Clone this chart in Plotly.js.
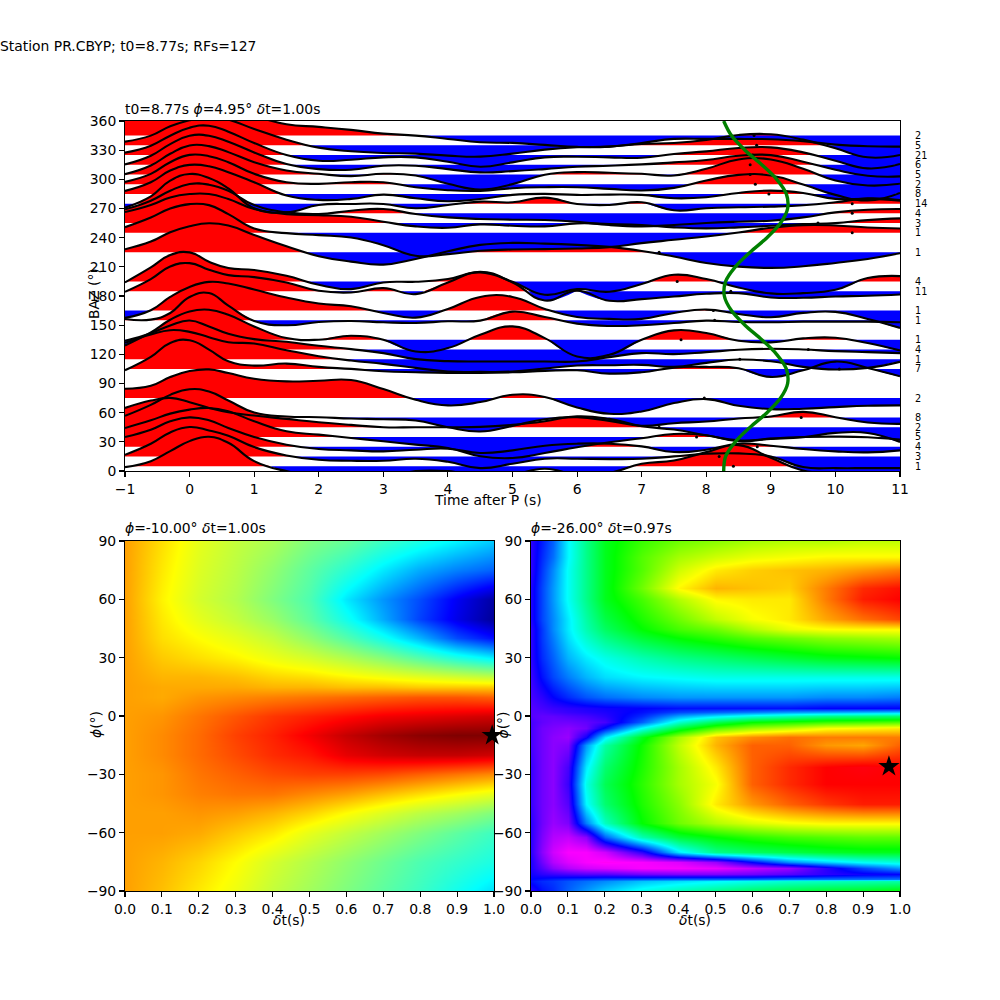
<!DOCTYPE html>
<html><head><meta charset="utf-8">
<script src="https://cdn.plot.ly/plotly-3.0.1.min.js"></script>
<style>html,body{margin:0;padding:0;background:#fff}</style></head>
<body><div id="chart" style="width:1000px;height:1000px"></div>
<script>
const timeKnots=[-1,-0.6,-0.3,0,0.3,0.6,1,1.5,2,2.5,3,3.5,4,4.5,5,5.5,6,6.5,7,7.5,8,8.5,9,9.5,10,10.5,11];
const bazBins=[5,15,25,35,45,55,75,105,115,125,135,155,165,185,195,225,245,255,265,275,285,295,305,315,325,335,345];
const rfCounts=[1,3,4,5,2,8,2,7,1,4,1,1,1,11,4,1,1,3,4,14,8,2,5,6,21,5,2];
const degPerAmp=0.343;
const rf5=[-3,15,45,75,88,70,15,-15,-30,-35,-35,-15,-15,-30,-25,-8,-25,-20,7,17,42,63,25,-13,-22,-30,-35];
const rf15=[5,38,72,88,78,62,28,3,-10,-13,-13,-7,-16,-35,-22,-7,-7,-8,-7,0,8,9,0,-32,-35,-35,-35];
const rf25=[29,51,76,88,79,56,29,6,-7,-11,-14,-9,-6,-19,-11,3,9,9,1,-16,-9,9,3,-7,-14,-17,-11];
const rf35=[27,50,70,82,87,77,47,17,7,-3,-13,-23,-33,-58,-63,-48,-31,-16,-4,9,5,-13,-5,0,1,-1,-8];
const rf45=[58,80,88,75,58,45,35,25,15,7,0,0,0,1,7,18,33,25,3,-7,-24,-39,-35,-30,-17,-17,-44];
const rf55=[5,38,68,85,78,51,15,3,1,-3,-5,-9,-29,-42,-25,-5,1,-10,-25,-17,-12,-3,3,17,1,-15,-19];
const rf75=[28,37,63,81,86,75,58,50,52,54,27,-5,-22,-12,10,3,-28,-47,-40,-15,-3,-23,-33,-32,-27,-23,-22];
const rf105=[-4,36,78,86,58,23,10,16,6,0,-7,-10,-12,-12,-10,-6,-4,-14,-10,4,6,2,-24,-4,22,3,-22];
const rf115=[49,74,87,82,66,51,47,27,9,-4,-14,-26,-37,-38,-37,-28,-19,-18,-17,-23,-11,-1,-6,-23,-31,-26,-8];
const rf125=[26,49,72,87,69,47,31,23,11,1,-11,-29,-35,-36,-36,-36,-36,-23,-11,-14,-8,-1,2,0,-5,-8,-11];
const rf135=[-17,22,60,85,90,75,40,5,0,12,0,-35,-25,15,40,5,-50,-45,0,28,20,-3,-8,4,6,-10,-32];
const rf155=[4,2,22,70,82,44,-2,-15,-5,-2,-6,-8,-3,-1,26,10,-10,-17,-15,-8,-1,-5,-6,-4,-4,-4,-6];
const rf165=[-22,1,41,71,86,81,63,39,21,13,-7,-21,5,41,41,5,-19,-25,-25,-7,3,-10,-20,-7,-4,-25,-52];
const rf185=[-2,36,74,84,64,48,42,26,1,-4,9,-9,26,58,26,-28,1,-29,-24,-16,-8,-6,-19,-20,-16,-14,-10];
const rf195=[-3,42,79,87,59,40,34,17,-10,-23,-3,-1,7,27,-1,-40,-23,-31,-8,20,7,-18,-36,-35,-25,10,16];
const rf225=[9,32,60,78,87,80,52,18,-12,-28,-37,-20,3,22,28,26,22,16,4,-13,-32,-43,-47,-42,-32,-20,-3];
const rf245=[17,46,73,86,83,56,13,-1,-7,-14,-37,-69,-64,-54,-50,-49,-47,-43,-31,-21,-11,1,15,23,22,16,13];
const rf255=[33,54,77,87,87,72,42,27,24,19,4,-10,-14,-4,-8,-10,-1,-3,-6,-13,-16,-13,-8,-3,0,9,14];
const rf265=[12,38,68,88,86,68,25,3,-2,8,13,-2,-12,-17,-19,-20,-25,-35,-39,-35,-29,-25,-22,-12,3,11,13];
const rf275=[-12,22,69,89,77,46,-14,-26,-4,-1,-1,-14,-4,6,4,18,-1,-4,4,-20,-14,-11,-9,-5,4,16,11];
const rf285=[9,35,70,87,83,65,35,-5,-18,-15,-2,-13,-22,-15,-3,0,-3,-2,-3,-13,-10,3,10,3,-15,-15,-20];
const rf295=[7,31,66,88,84,66,31,6,1,6,6,-9,-18,-20,-12,-9,-9,-14,-19,-11,11,28,26,-1,-32,-49,-26];
const rf305=[1,27,62,87,85,67,37,12,2,-5,2,-3,-28,-45,-29,-1,7,5,2,-3,17,45,45,17,-18,-33,-28];
const rf315=[1,27,62,87,87,69,37,2,-13,-15,-3,-3,-13,-23,-19,-13,-6,-3,1,7,14,27,29,9,-15,-33,-35];
const rf325=[7,28,58,82,88,70,36,0,-17,-14,-7,-7,-20,-35,-22,-7,-5,-7,-8,3,11,21,23,8,-17,-40,-27];
const rf335=[11,29,57,75,87,77,49,17,-7,-18,-23,-25,-31,-34,-25,-13,-6,-4,4,7,16,31,33,17,-9,-36,-29];
const rf345=[55,65,78,88,86,74,58,34,26,17,6,0,-10,-20,-22,-28,-34,-33,-22,-10,-10,-10,-11,-17,-27,-32,-33];
const rfTraces=[rf5,rf15,rf25,rf35,rf45,rf55,rf75,rf105,rf115,rf125,rf135,rf155,rf165,rf185,rf195,rf225,rf245,rf255,rf265,rf275,rf285,rf295,rf305,rf315,rf325,rf335,rf345];
const pickTimes=[8.42,8.2,8.79,7.85,7.27,9.47,7.97,10.06,8.52,9.58,7.61,8.13,8.11,8.38,7.55,7.27,10.26,9.73,10.26,10.26,8.97,8.76,8.68,8.68,8.72,8.78,8.74];
const sineBaz=[0,15,30,45,60,75,90,105,120,135,150,165,180,195,210,225,240,255,270,285,300,315,330,345,360];
const sineTime=[8.27,8.30,8.45,8.68,8.94,9.15,9.26,9.24,9.09,8.86,8.60,8.39,8.28,8.30,8.45,8.68,8.94,9.15,9.26,9.24,9.09,8.86,8.60,8.39,8.27];

const dtLeft=[0,0.1,0.2,0.3,0.4,0.5,0.6,0.7,0.8,0.9,1];
const phiLeft=[-90,-75,-60,-50,-40,-30,-20,-10,0,10,15,20,30,40,50,60,75,90];
const zLeft=[
[.74,.71,.67,.63,.58,.54,.50,.46,.42,.37,.32],
[.74,.72,.69,.65,.60,.56,.52,.48,.44,.41,.38],
[.74,.74,.73,.70,.67,.62,.58,.54,.50,.46,.42],
[.74,.74,.75,.74,.72,.69,.65,.61,.57,.54,.50],
[.74,.75,.77,.78,.78,.76,.74,.71,.68,.65,.62],
[.74,.75,.78,.80,.82,.83,.83,.82,.80,.78,.76],
[.74,.76,.79,.82,.85,.87,.91,.93,.94,.94,.93],
[.74,.76,.79,.83,.86,.90,.94,.97,.99,1,1],
[.74,.75,.78,.81,.84,.86,.88,.90,.91,.92,.93],
[.74,.73,.75,.76,.77,.78,.79,.80,.81,.81,.80],
[.74,.73,.73,.73,.72,.72,.71,.71,.70,.70,.70],
[.74,.72,.72,.71,.69,.68,.66,.64,.62,.60,.58],
[.74,.70,.68,.66,.63,.60,.56,.51,.45,.39,.34],
[.74,.68,.65,.62,.58,.52,.45,.37,.28,.18,.12],
[.74,.67,.62,.58,.53,.46,.37,.27,.17,.09,.02],
[.74,.66,.60,.56,.50,.44,.33,.25,.18,.10,.03],
[.74,.67,.61,.57,.52,.46,.40,.33,.27,.23,.20],
[.74,.68,.62,.58,.55,.50,.47,.42,.38,.34,.30]];
const dtRight=[0,0.03,0.06,0.1,0.15,0.2,0.3,0.4,0.5,0.6,0.7,0.8,0.9,1];
const phiRight=[-90,-85,-84,-81,-78,-75,-70,-62,-55,-45,-35,-26,-15,-11,-6,-3,0,2,4,10,20,30,40,45,50,60,66,75,82,90];
const zRight=[
[.20,.24,.26,.30,.34,.38,.43,.47,.50,.53,.55,.57,.58,.60],
[.24,.26,.27,.29,.31,.33,.37,.39,.41,.43,.45,.46,.47,.48],
[.23,.24,.25,.26,.27,.28,.29,.30,.30,.30,.31,.31,.31,.31],
[.22,.20,.19,.18,.17,.17,.15,.14,.14,.15,.17,.20,.22,.23],
[.21,.17,.13,.10,.08,.07,.05,.05,.06,.09,.12,.20,.28,.34],
[.21,.15,.10,.07,.05,.04,.05,.07,.12,.23,.33,.38,.42,.44],
[.20,.13,.08,.05,.05,.08,.20,.40,.50,.53,.55,.57,.58,.58],
[.20,.14,.10,.09,.13,.30,.47,.56,.60,.63,.65,.66,.67,.67],
[.20,.15,.12,.14,.32,.46,.60,.68,.73,.76,.78,.79,.79,.79],
[.19,.15,.13,.17,.41,.52,.62,.70,.80,.86,.90,.93,.95,.95],
[.19,.15,.13,.19,.43,.54,.63,.72,.78,.90,.94,.97,.97,.97],
[.19,.15,.13,.18,.40,.52,.62,.72,.80,.90,.94,.97,.98,.97],
[.18,.15,.13,.14,.34,.48,.61,.74,.84,.90,.90,.86,.85,.90],
[.18,.15,.13,.12,.22,.40,.58,.72,.83,.87,.89,.88,.88,.88],
[.18,.15,.14,.13,.15,.24,.42,.56,.66,.71,.74,.78,.79,.80],
[.18,.16,.15,.15,.16,.18,.30,.45,.54,.60,.62,.64,.65,.66],
[.17,.16,.16,.17,.18,.20,.26,.35,.40,.44,.47,.50,.51,.52],
[.17,.17,.18,.19,.20,.21,.24,.28,.30,.32,.34,.35,.36,.37],
[.17,.18,.19,.20,.21,.22,.23,.24,.24,.24,.24,.23,.23,.23],
[.18,.20,.23,.26,.29,.31,.33,.34,.34,.34,.34,.33,.33,.32],
[.19,.24,.28,.32,.36,.39,.41,.42,.43,.43,.43,.43,.43,.43],
[.20,.26,.30,.36,.40,.43,.47,.50,.52,.54,.56,.58,.59,.60],
[.20,.27,.32,.39,.45,.50,.56,.60,.63,.66,.68,.70,.71,.72],
[.20,.27,.33,.40,.47,.53,.60,.65,.68,.73,.77,.785,.79,.79],
[.21,.28,.33,.40,.48,.55,.62,.68,.74,.78,.80,.85,.89,.92],
[.21,.28,.34,.42,.50,.58,.65,.73,.79,.80,.80,.88,.95,.97],
[.21,.28,.34,.42,.50,.58,.68,.79,.84,.83,.82,.88,.94,.96],
[.20,.27,.33,.42,.50,.58,.66,.75,.80,.82,.83,.84,.86,.88],
[.20,.26,.31,.41,.50,.58,.66,.72,.75,.77,.78,.79,.79,.79],
[.20,.25,.30,.41,.50,.58,.64,.68,.70,.72,.73,.73,.74,.74]];

const jet=[[0,'#00007f'],[.11,'#0000ff'],[.35,'#00ffff'],[.5,'#7fff7f'],[.65,'#ffff00'],[.89,'#ff0000'],[1,'#7f0000']];
const rainbowR=[[0,'#ff00bf'],[.046,'#ff00ff'],[.23,'#0000ff'],[.414,'#00ffff'],[.6,'#00ff00'],[.785,'#ffff00'],[.97,'#ff0000'],[1,'#ff0029']];
const FONT='DejaVu Sans',FS=13.9,SM=1.3;

function lobes(t,a,base,sign){
  const xs=[],ys=[],n=t.length;let open=false;
  const cross=i=>{const f=a[i-1]/(a[i-1]-a[i]);xs.push(t[i-1]+f*(t[i]-t[i-1]));ys.push(base);};
  for(let i=0;i<n;i++){
    const pos=a[i]*sign>0;
    if(pos){
      if(!open){
        if(i===0){xs.push(t[0]-.3,t[0]-.15);ys.push(base,base+a[0]*degPerAmp);}
        else cross(i);
        open=true;
      }
      xs.push(t[i]);ys.push(base+a[i]*degPerAmp);
      if(i===n-1){xs.push(t[i]+.15,t[i]+.3,null);ys.push(base+a[i]*degPerAmp,base,null);}
    }else if(open){cross(i);xs.push(null);ys.push(null);open=false;}
  }
  return {x:xs,y:ys};
}
const data=[];
rfTraces.forEach((a,k)=>{
  [[1,'#ff0000'],[-1,'#0000ff']].forEach(([s,c])=>{
    const p=lobes(timeKnots,a,bazBins[k],s);
    data.push({type:'scatter',mode:'lines',x:p.x,y:p.y,xaxis:'x',yaxis:'y',fill:'toself',fillcolor:c,
      line:{width:0,shape:'spline',smoothing:SM,color:c},connectgaps:false,hoverinfo:'skip',showlegend:false});
  });
});
rfTraces.forEach((a,k)=>{
  data.push({type:'scatter',mode:'lines',x:timeKnots,y:a.map(v=>bazBins[k]+v*degPerAmp),xaxis:'x',yaxis:'y',
    line:{width:2.1,color:'#000',shape:'spline',smoothing:SM},hoverinfo:'skip',showlegend:false});
});
data.push({type:'scatter',mode:'markers',x:pickTimes,y:bazBins,xaxis:'x',yaxis:'y',marker:{color:'#000',size:3},hoverinfo:'skip',showlegend:false});
data.push({type:'scatter',mode:'lines',x:sineTime,y:sineBaz,xaxis:'x',yaxis:'y',line:{color:'#008000',width:3.4,shape:'spline'},hoverinfo:'skip',showlegend:false});
data.push({type:'heatmap',x:dtLeft,y:phiLeft,z:zLeft,zmin:0,zmax:1,colorscale:jet,zsmooth:'best',showscale:false,xaxis:'x2',yaxis:'y2',hoverinfo:'skip'});
data.push({type:'heatmap',x:dtRight,y:phiRight,z:zRight,zmin:0,zmax:1,colorscale:rainbowR,zsmooth:'best',showscale:false,xaxis:'x3',yaxis:'y3',hoverinfo:'skip'});
data.push({type:'scatter',mode:'markers',x:[0.995],y:[-10],xaxis:'x2',yaxis:'y2',cliponaxis:false,marker:{symbol:'star',size:16,color:'#000'},hoverinfo:'skip',showlegend:false});
data.push({type:'scatter',mode:'markers',x:[0.97],y:[-26],xaxis:'x3',yaxis:'y3',cliponaxis:false,marker:{symbol:'star',size:16,color:'#000'},hoverinfo:'skip',showlegend:false});

const axisBase={showline:true,mirror:true,linecolor:'#000',linewidth:1.1,ticks:'outside',ticklen:4.9,tickwidth:1.1,tickcolor:'#000',
  showgrid:false,zeroline:false,tickfont:{family:FONT,size:FS,color:'#000'},automargin:false};
const note=(text,x,y,size)=>({text,xref:'paper',yref:'paper',x,y,xanchor:'left',yanchor:'bottom',showarrow:false,
  font:{family:FONT,size:size||FS,color:'#000'},borderpad:0,borderwidth:0});
const axisLabel=(text,px,py,angle)=>({text,xref:'paper',yref:'paper',x:px/1000,y:1-py/1000,xanchor:'center',yanchor:'middle',showarrow:false,textangle:angle||0,
  font:{family:FONT,size:FS,color:'#000'},borderpad:0,borderwidth:0});
const countNotes=rfCounts.map((c,k)=>({text:String(c),xref:'paper',yref:'y',x:.915,y:bazBins[k],xanchor:'left',yanchor:'middle',showarrow:false,
  font:{family:FONT,size:9.7,color:'#000'},borderpad:0,borderwidth:0}));
const layout={width:1000,height:1000,margin:{l:0,r:0,t:0,b:0},paper_bgcolor:'#fff',plot_bgcolor:'#fff',showlegend:false,
  xaxis:{...axisBase,domain:[.125,.9],range:[-1,11],tickmode:'array',tickvals:[-1,0,1,2,3,4,5,6,7,8,9,10,11],anchor:'y'},
  yaxis:{...axisBase,domain:[.529,.879],range:[0,360],tickmode:'linear',tick0:0,dtick:30,anchor:'x'},
  xaxis2:{...axisBase,domain:[.125,.494],range:[0,1],tickmode:'linear',tick0:0,dtick:.1,tickformat:'.1f',anchor:'y2'},
  yaxis2:{...axisBase,domain:[.109,.459],range:[-90,90],tickmode:'linear',tick0:-90,dtick:30,anchor:'x2'},
  xaxis3:{...axisBase,domain:[.531,.9],range:[0,1],tickmode:'linear',tick0:0,dtick:.1,tickformat:'.1f',anchor:'y3'},
  yaxis3:{...axisBase,domain:[.109,.459],range:[-90,90],tickmode:'linear',tick0:-90,dtick:30,anchor:'x3'},
  annotations:[
    note('Station PR.CBYP; t0=8.77s; RFs=127',0,.946),
    note('t0=8.77s <i>ϕ</i>=4.95° <i>δ</i>t=1.00s',.125,.883),
    note('<i>ϕ</i>=-10.00° <i>δ</i>t=1.00s',.125,.464),
    note('<i>ϕ</i>=-26.00° <i>δ</i>t=0.97s',.531,.464),
    axisLabel('Time after P (s)',488,500),
    axisLabel('BAZ (°)',94,294,-90),
    axisLabel('<i>δ</i>t(s)',289,920),
    axisLabel('<i>ϕ</i>(°)',96,725,-90),
    axisLabel('<i>δ</i>t(s)',695,920),
    axisLabel('<i>ϕ</i>(°)',502.5,725,-90),
    ...countNotes
  ]};
Plotly.newPlot('chart',data,layout,{displayModeBar:false,staticPlot:true});
</script></body></html>
